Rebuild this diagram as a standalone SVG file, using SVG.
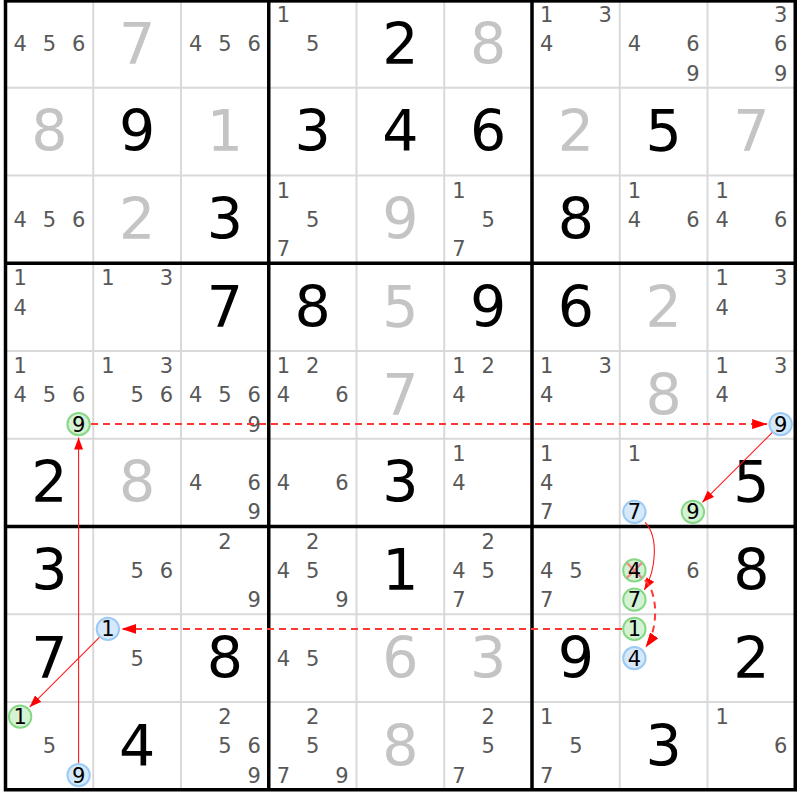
<svg xmlns="http://www.w3.org/2000/svg" width="800" height="800" viewBox="0 0 800 800">
<style>
text{font-family:"DejaVu Sans",Verdana,"Liberation Sans",sans-serif;text-anchor:middle}
.c{font-size:21px;fill:#585858}
.g{font-size:57px;fill:#c4c4c4}
.b{font-size:57px;fill:#000}
.h{font-size:21px;fill:#000}
.cb{fill:#d5e9fb;stroke:#9ccaf3;stroke-width:2}
.cg{fill:#d4f2d4;stroke:#86d886;stroke-width:2}
.x{stroke:#f08a8a;stroke-width:2.2}
.thin{stroke:#d9d9d9;stroke-width:2;fill:none}
.thick{stroke:#000;stroke-width:3.5;fill:none}
.sl{stroke:#ff1a1a;stroke-width:1.1;fill:none}
.dl{stroke:#ff3838;stroke-width:2;stroke-dasharray:7 5;fill:none}
</style>
<defs>
<marker id="as" markerUnits="userSpaceOnUse" viewBox="0 0 12 9" markerWidth="12" markerHeight="9" refX="12" refY="4.5" orient="auto"><path d="M0,0L12,4.5L0,9z" fill="#ff0000"/></marker>
<marker id="ad" markerUnits="userSpaceOnUse" viewBox="0 0 15 10" markerWidth="15" markerHeight="10" refX="15" refY="5" orient="auto"><path d="M0,0L15,5L0,10z" fill="#ff0000"/></marker>
</defs>
<rect x="0" y="0" width="800" height="800" fill="#fff"/>
<g id="grid">
<path class="thin" d="M93.25,0V789.75M181,0V789.75M356.5,0V789.75M444.25,0V789.75M619.75,0V789.75M707.5,0V789.75M5.5,87.75H795.25M5.5,175.5H795.25M5.5,351H795.25M5.5,438.75H795.25M5.5,614.25H795.25M5.5,702H795.25"/>
<path class="thick" d="M268.75,0V789.75M532,0V789.75M5.5,263.25H795.25M5.5,526.5H795.25"/>
<rect class="thick" x="5.5" y="0.9" width="789.75" height="788.85"/>
</g>
<g id="cells">
<g id="r1c1" transform="translate(49.375,43.875)"><text class="c" x="-29.25" y="7.6">4</text><text class="c" x="0" y="7.6">5</text><text class="c" x="29.25" y="7.6">6</text></g>
<g id="r1c2" transform="translate(137.125,43.875)"><text class="g" y="19.8">7</text></g>
<g id="r1c3" transform="translate(224.875,43.875)"><text class="c" x="-29.25" y="7.6">4</text><text class="c" x="0" y="7.6">5</text><text class="c" x="29.25" y="7.6">6</text></g>
<g id="r1c4" transform="translate(312.625,43.875)"><text class="c" x="-29.25" y="-21.65">1</text><text class="c" x="0" y="7.6">5</text></g>
<g id="r1c5" transform="translate(400.375,43.875)"><text class="b" y="19.8">2</text></g>
<g id="r1c6" transform="translate(488.125,43.875)"><text class="g" y="19.8">8</text></g>
<g id="r1c7" transform="translate(575.875,43.875)"><text class="c" x="-29.25" y="-21.65">1</text><text class="c" x="29.25" y="-21.65">3</text><text class="c" x="-29.25" y="7.6">4</text></g>
<g id="r1c8" transform="translate(663.625,43.875)"><text class="c" x="-29.25" y="7.6">4</text><text class="c" x="29.25" y="7.6">6</text><text class="c" x="29.25" y="36.85">9</text></g>
<g id="r1c9" transform="translate(751.375,43.875)"><text class="c" x="29.25" y="-21.65">3</text><text class="c" x="29.25" y="7.6">6</text><text class="c" x="29.25" y="36.85">9</text></g>
<g id="r2c1" transform="translate(49.375,131.625)"><text class="g" y="19.8">8</text></g>
<g id="r2c2" transform="translate(137.125,131.625)"><text class="b" y="19.8">9</text></g>
<g id="r2c3" transform="translate(224.875,131.625)"><text class="g" y="19.8">1</text></g>
<g id="r2c4" transform="translate(312.625,131.625)"><text class="b" y="19.8">3</text></g>
<g id="r2c5" transform="translate(400.375,131.625)"><text class="b" y="19.8">4</text></g>
<g id="r2c6" transform="translate(488.125,131.625)"><text class="b" y="19.8">6</text></g>
<g id="r2c7" transform="translate(575.875,131.625)"><text class="g" y="19.8">2</text></g>
<g id="r2c8" transform="translate(663.625,131.625)"><text class="b" y="19.8">5</text></g>
<g id="r2c9" transform="translate(751.375,131.625)"><text class="g" y="19.8">7</text></g>
<g id="r3c1" transform="translate(49.375,219.375)"><text class="c" x="-29.25" y="7.6">4</text><text class="c" x="0" y="7.6">5</text><text class="c" x="29.25" y="7.6">6</text></g>
<g id="r3c2" transform="translate(137.125,219.375)"><text class="g" y="19.8">2</text></g>
<g id="r3c3" transform="translate(224.875,219.375)"><text class="b" y="19.8">3</text></g>
<g id="r3c4" transform="translate(312.625,219.375)"><text class="c" x="-29.25" y="-21.65">1</text><text class="c" x="0" y="7.6">5</text><text class="c" x="-29.25" y="36.85">7</text></g>
<g id="r3c5" transform="translate(400.375,219.375)"><text class="g" y="19.8">9</text></g>
<g id="r3c6" transform="translate(488.125,219.375)"><text class="c" x="-29.25" y="-21.65">1</text><text class="c" x="0" y="7.6">5</text><text class="c" x="-29.25" y="36.85">7</text></g>
<g id="r3c7" transform="translate(575.875,219.375)"><text class="b" y="19.8">8</text></g>
<g id="r3c8" transform="translate(663.625,219.375)"><text class="c" x="-29.25" y="-21.65">1</text><text class="c" x="-29.25" y="7.6">4</text><text class="c" x="29.25" y="7.6">6</text></g>
<g id="r3c9" transform="translate(751.375,219.375)"><text class="c" x="-29.25" y="-21.65">1</text><text class="c" x="-29.25" y="7.6">4</text><text class="c" x="29.25" y="7.6">6</text></g>
<g id="r4c1" transform="translate(49.375,307.125)"><text class="c" x="-29.25" y="-21.65">1</text><text class="c" x="-29.25" y="7.6">4</text></g>
<g id="r4c2" transform="translate(137.125,307.125)"><text class="c" x="-29.25" y="-21.65">1</text><text class="c" x="29.25" y="-21.65">3</text></g>
<g id="r4c3" transform="translate(224.875,307.125)"><text class="b" y="19.8">7</text></g>
<g id="r4c4" transform="translate(312.625,307.125)"><text class="b" y="19.8">8</text></g>
<g id="r4c5" transform="translate(400.375,307.125)"><text class="g" y="19.8">5</text></g>
<g id="r4c6" transform="translate(488.125,307.125)"><text class="b" y="19.8">9</text></g>
<g id="r4c7" transform="translate(575.875,307.125)"><text class="b" y="19.8">6</text></g>
<g id="r4c8" transform="translate(663.625,307.125)"><text class="g" y="19.8">2</text></g>
<g id="r4c9" transform="translate(751.375,307.125)"><text class="c" x="-29.25" y="-21.65">1</text><text class="c" x="29.25" y="-21.65">3</text><text class="c" x="-29.25" y="7.6">4</text></g>
<g id="r5c1" transform="translate(49.375,394.875)"><text class="c" x="-29.25" y="-21.65">1</text><text class="c" x="-29.25" y="7.6">4</text><text class="c" x="0" y="7.6">5</text><text class="c" x="29.25" y="7.6">6</text><circle class="cg" cx="29.25" cy="29.25" r="11.2"/><text class="h" x="29.25" y="36.85">9</text></g>
<g id="r5c2" transform="translate(137.125,394.875)"><text class="c" x="-29.25" y="-21.65">1</text><text class="c" x="29.25" y="-21.65">3</text><text class="c" x="0" y="7.6">5</text><text class="c" x="29.25" y="7.6">6</text></g>
<g id="r5c3" transform="translate(224.875,394.875)"><text class="c" x="-29.25" y="7.6">4</text><text class="c" x="0" y="7.6">5</text><text class="c" x="29.25" y="7.6">6</text><text class="c" x="29.25" y="36.85">9</text></g>
<g id="r5c4" transform="translate(312.625,394.875)"><text class="c" x="-29.25" y="-21.65">1</text><text class="c" x="0" y="-21.65">2</text><text class="c" x="-29.25" y="7.6">4</text><text class="c" x="29.25" y="7.6">6</text></g>
<g id="r5c5" transform="translate(400.375,394.875)"><text class="g" y="19.8">7</text></g>
<g id="r5c6" transform="translate(488.125,394.875)"><text class="c" x="-29.25" y="-21.65">1</text><text class="c" x="0" y="-21.65">2</text><text class="c" x="-29.25" y="7.6">4</text></g>
<g id="r5c7" transform="translate(575.875,394.875)"><text class="c" x="-29.25" y="-21.65">1</text><text class="c" x="29.25" y="-21.65">3</text><text class="c" x="-29.25" y="7.6">4</text></g>
<g id="r5c8" transform="translate(663.625,394.875)"><text class="g" y="19.8">8</text></g>
<g id="r5c9" transform="translate(751.375,394.875)"><text class="c" x="-29.25" y="-21.65">1</text><text class="c" x="29.25" y="-21.65">3</text><text class="c" x="-29.25" y="7.6">4</text><circle class="cb" cx="29.25" cy="29.25" r="11.2"/><text class="h" x="29.25" y="36.85">9</text></g>
<g id="r6c1" transform="translate(49.375,482.625)"><text class="b" y="19.8">2</text></g>
<g id="r6c2" transform="translate(137.125,482.625)"><text class="g" y="19.8">8</text></g>
<g id="r6c3" transform="translate(224.875,482.625)"><text class="c" x="-29.25" y="7.6">4</text><text class="c" x="29.25" y="7.6">6</text><text class="c" x="29.25" y="36.85">9</text></g>
<g id="r6c4" transform="translate(312.625,482.625)"><text class="c" x="-29.25" y="7.6">4</text><text class="c" x="29.25" y="7.6">6</text></g>
<g id="r6c5" transform="translate(400.375,482.625)"><text class="b" y="19.8">3</text></g>
<g id="r6c6" transform="translate(488.125,482.625)"><text class="c" x="-29.25" y="-21.65">1</text><text class="c" x="-29.25" y="7.6">4</text></g>
<g id="r6c7" transform="translate(575.875,482.625)"><text class="c" x="-29.25" y="-21.65">1</text><text class="c" x="-29.25" y="7.6">4</text><text class="c" x="-29.25" y="36.85">7</text></g>
<g id="r6c8" transform="translate(663.625,482.625)"><text class="c" x="-29.25" y="-21.65">1</text><circle class="cb" cx="-29.25" cy="29.25" r="11.2"/><text class="h" x="-29.25" y="36.85">7</text><circle class="cg" cx="29.25" cy="29.25" r="11.2"/><text class="h" x="29.25" y="36.85">9</text></g>
<g id="r6c9" transform="translate(751.375,482.625)"><text class="b" y="19.8">5</text></g>
<g id="r7c1" transform="translate(49.375,570.375)"><text class="b" y="19.8">3</text></g>
<g id="r7c2" transform="translate(137.125,570.375)"><text class="c" x="0" y="7.6">5</text><text class="c" x="29.25" y="7.6">6</text></g>
<g id="r7c3" transform="translate(224.875,570.375)"><text class="c" x="0" y="-21.65">2</text><text class="c" x="29.25" y="36.85">9</text></g>
<g id="r7c4" transform="translate(312.625,570.375)"><text class="c" x="0" y="-21.65">2</text><text class="c" x="-29.25" y="7.6">4</text><text class="c" x="0" y="7.6">5</text><text class="c" x="29.25" y="36.85">9</text></g>
<g id="r7c5" transform="translate(400.375,570.375)"><text class="b" y="19.8">1</text></g>
<g id="r7c6" transform="translate(488.125,570.375)"><text class="c" x="0" y="-21.65">2</text><text class="c" x="-29.25" y="7.6">4</text><text class="c" x="0" y="7.6">5</text><text class="c" x="-29.25" y="36.85">7</text></g>
<g id="r7c7" transform="translate(575.875,570.375)"><text class="c" x="-29.25" y="7.6">4</text><text class="c" x="0" y="7.6">5</text><text class="c" x="-29.25" y="36.85">7</text></g>
<g id="r7c8" transform="translate(663.625,570.375)"><circle class="cg" cx="-29.25" cy="0" r="11.2"/><path class="x" d="M-36.75,-7.5L-21.75,7.5M-21.75,-7.5L-36.75,7.5"/><text class="h" x="-29.25" y="7.6">4</text><text class="c" x="29.25" y="7.6">6</text><circle class="cg" cx="-29.25" cy="29.25" r="11.2"/><text class="h" x="-29.25" y="36.85">7</text></g>
<g id="r7c9" transform="translate(751.375,570.375)"><text class="b" y="19.8">8</text></g>
<g id="r8c1" transform="translate(49.375,658.125)"><text class="b" y="19.8">7</text></g>
<g id="r8c2" transform="translate(137.125,658.125)"><circle class="cb" cx="-29.25" cy="-29.25" r="11.2"/><text class="h" x="-29.25" y="-21.65">1</text><text class="c" x="0" y="7.6">5</text></g>
<g id="r8c3" transform="translate(224.875,658.125)"><text class="b" y="19.8">8</text></g>
<g id="r8c4" transform="translate(312.625,658.125)"><text class="c" x="-29.25" y="7.6">4</text><text class="c" x="0" y="7.6">5</text></g>
<g id="r8c5" transform="translate(400.375,658.125)"><text class="g" y="19.8">6</text></g>
<g id="r8c6" transform="translate(488.125,658.125)"><text class="g" y="19.8">3</text></g>
<g id="r8c7" transform="translate(575.875,658.125)"><text class="b" y="19.8">9</text></g>
<g id="r8c8" transform="translate(663.625,658.125)"><circle class="cg" cx="-29.25" cy="-29.25" r="11.2"/><text class="h" x="-29.25" y="-21.65">1</text><circle class="cb" cx="-29.25" cy="0" r="11.2"/><text class="h" x="-29.25" y="7.6">4</text></g>
<g id="r8c9" transform="translate(751.375,658.125)"><text class="b" y="19.8">2</text></g>
<g id="r9c1" transform="translate(49.375,745.875)"><circle class="cg" cx="-29.25" cy="-29.25" r="11.2"/><text class="h" x="-29.25" y="-21.65">1</text><text class="c" x="0" y="7.6">5</text><circle class="cb" cx="29.25" cy="29.25" r="11.2"/><text class="h" x="29.25" y="36.85">9</text></g>
<g id="r9c2" transform="translate(137.125,745.875)"><text class="b" y="19.8">4</text></g>
<g id="r9c3" transform="translate(224.875,745.875)"><text class="c" x="0" y="-21.65">2</text><text class="c" x="0" y="7.6">5</text><text class="c" x="29.25" y="7.6">6</text><text class="c" x="29.25" y="36.85">9</text></g>
<g id="r9c4" transform="translate(312.625,745.875)"><text class="c" x="0" y="-21.65">2</text><text class="c" x="0" y="7.6">5</text><text class="c" x="-29.25" y="36.85">7</text><text class="c" x="29.25" y="36.85">9</text></g>
<g id="r9c5" transform="translate(400.375,745.875)"><text class="g" y="19.8">8</text></g>
<g id="r9c6" transform="translate(488.125,745.875)"><text class="c" x="0" y="-21.65">2</text><text class="c" x="0" y="7.6">5</text><text class="c" x="-29.25" y="36.85">7</text></g>
<g id="r9c7" transform="translate(575.875,745.875)"><text class="c" x="-29.25" y="-21.65">1</text><text class="c" x="0" y="7.6">5</text><text class="c" x="-29.25" y="36.85">7</text></g>
<g id="r9c8" transform="translate(663.625,745.875)"><text class="b" y="19.8">3</text></g>
<g id="r9c9" transform="translate(751.375,745.875)"><text class="c" x="-29.25" y="-21.65">1</text><text class="c" x="29.25" y="7.6">6</text></g>
</g>
<g id="connectors">
<path class="dl" d="M91,424.1L767.1,424.1" marker-end="url(#ad)"/>
<path class="sl" d="M772.1,432.6L702.4,502.3" marker-end="url(#as)"/>
<path class="sl" d="M645.1,522.4C659,537 656,570 644.3,590" marker-end="url(#as)"/>
<path class="dl" d="M644.8,580C659,594 658,630 645.5,647.6" marker-end="url(#ad)"/>
<path class="dl" d="M622,628.9L121.4,628.9" marker-end="url(#ad)"/>
<path class="sl" d="M99.4,637.4L29.7,707.1" marker-end="url(#as)"/>
<path class="sl" d="M78.6,763.1L78.6,437.6" marker-end="url(#as)"/>
</g>
</svg>
